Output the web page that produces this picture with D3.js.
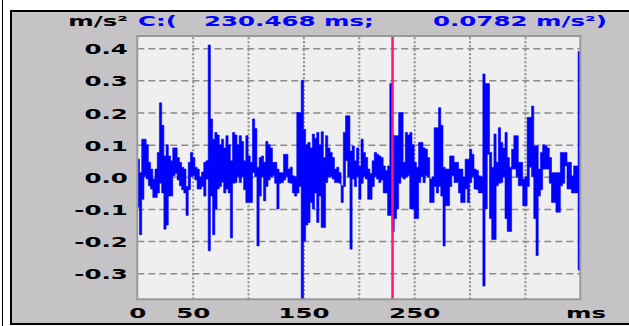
<!DOCTYPE html>
<html>
<head>
<meta charset="utf-8">
<script src="https://cdn.jsdelivr.net/npm/d3@7"></script>
<style>
  body { margin: 0; background: #fff; }
  text { font-family: "DejaVu Sans", sans-serif; font-weight: bold; font-size: 14px; }
</style>
</head>
<body>
<script>
"use strict";

// the trace is drawn scope-style: for every 2 ms column the highest and lowest value (m/s²)
const sampleStepMs = 2;
const accelHi = [
    0.055, 0.013, 0.117, 0.117, 0.1, 0.045, 0.024, -0.007, 0.024, 0.076,
    0.23, 0.16, 0.065, 0.1, 0.065, 0.05, 0.09, 0.09, 0.06, 0.045,
    0.03, 0.024, -0.03, 0.045, 0.076, 0.06, 0.03, 0.024, 0.0, 0.015,
    0.045, 0.05, 0.41, 0.18, 0.117, 0.138, 0.13, 0.1, 0.117, 0.09,
    0.128, 0.1, 0.05, 0.138, 0.13, 0.1, 0.128, 0.11, 0.05, 0.128,
    0.065,
    0.045, 0.18, 0.15, 0.03, 0.06, 0.065, 0.045, 0.11, 0.1, 0.09,
    0.045, 0.045, 0.024, 0.013, 0.013, 0.07, 0.07, 0.024, 0.03, 0.003,
    0.0, 0.2, 0.2, 0.3, 0.148, 0.1, 0.107, 0.09, 0.133, 0.12,
    0.138, 0.1, 0.14, 0.06, 0.128, 0.09, 0.076, 0.06, 0.024, 0.03,
    0.013, -0.028, 0.138, 0.19, 0.19, 0.08, 0.096, 0.05, 0.09,
    0.034, 0.117, 0.076, 0.06, 0.024, 0.01, 0.05, 0.076, 0.07, 0.065,
    0.06, 0.034, 0.02, 0.034, 0.29, 0.13, 0.128, 0.128, 0.2, 0.2,
    0.045, 0.138, 0.13, 0.138, 0.1, 0.045, 0.03, 0.107, 0.107, 0.09,
    0.086, 0.06, -0.007, 0.0, 0.153, 0.153, 0.215, 0.16, 0.03, 0.024,
    0.024, 0.065, 0.065, 0.045, 0.045, 0.024, 0.024, 0.0, 0.055,
    0.055, 0.086, 0.07, 0.024, 0.02, 0.003, 0.0, 0.32, 0.29, 0.29,
    0.076, 0.03, 0.133, 0.045, 0.153, 0.107, 0.09, 0.138, 0.06, 0.03,
    0.086, 0.128, 0.128, 0.045, 0.045, -0.007, 0.0, 0.185, 0.185, 0.22,
    0.096, 0.096, 0.024, 0.076, 0.1, 0.096, 0.09, 0.06, 0.013, 0.013,
    0.013, 0.013, 0.076, 0.076, 0.076, 0.045, 0.045, 0.003, 0.034, 0.034,
    0.39, 0.128
];
const accelLo = [
    -0.095, -0.18, -0.07, 0.0, -0.007, -0.028, -0.038, -0.064, -0.064, -0.05,
    -0.02, -0.05, -0.163, -0.15, -0.06, -0.06, 0.003, 0.01, -0.01, -0.028,
    -0.04, -0.05, -0.12, -0.04, 0.0, 0.003, -0.01, -0.038, -0.038, -0.03,
    -0.06, -0.007, -0.23, -0.06, -0.18, -0.1, -0.038, -0.03, -0.017, -0.05,
    -0.038, -0.05, -0.19, -0.02, -0.018, 0.0, -0.018, 0.0, -0.04, -0.08,
    -0.08,
    -0.08, 0.013, 0.0, -0.215, -0.06, 0.0, -0.075, -0.03, -0.01, 0.0,
    0.003, -0.02, -0.1, -0.02, -0.018, -0.01, 0.0, -0.018, -0.02, -0.05,
    -0.06, -0.05, -0.03, -0.38, -0.2, -0.15, -0.142, -0.08, -0.1, -0.05,
    -0.142, -0.06, -0.158, -0.158, -0.018, 0.0, 0.0, -0.007, -0.018, -0.018,
    -0.02, -0.08, -0.03, 0.05, 0.0, -0.225, -0.007, -0.03, 0.0,
    -0.07, -0.02, 0.0, -0.007, -0.07, -0.07, -0.03, 0.0, -0.007, -0.018,
    -0.01, -0.05, -0.05, -0.12, -0.12, -0.17, -0.13, -0.1, -0.02, 0.0,
    -0.007, 0.0, 0.003, -0.1, -0.1, -0.13, -0.13, -0.018, 0.0, -0.018,
    0.003, 0.0, -0.08, -0.08, -0.03, -0.05, -0.03, -0.06, -0.215, -0.09,
    -0.09, -0.03, 0.003, -0.018, -0.018, -0.05, -0.08, -0.08, -0.038,
    -0.08, -0.018, 0.0, -0.038, -0.04, -0.05, -0.05, -0.34, -0.1, 0.07,
    -0.13, -0.195, -0.195, -0.028, -0.02, -0.018, 0.0, -0.13, -0.17, -0.17,
    0.024, 0.024, 0.0, -0.028, -0.028, -0.09, -0.09, -0.03, 0.03, 0.0,
    -0.13, -0.245, -0.06, -0.04, 0.024, 0.024, 0.024, -0.02, -0.08, -0.08,
    -0.11, -0.11, -0.028, -0.02, 0.034, -0.038, -0.038, -0.05, -0.05, -0.05,
    -0.29, -0.07
];

const xTicks = [0, 50, 150, 250];
const xTickLabels = ["0", "50", "150", "250"];
const xGrid = [50, 100, 150, 200, 250, 300, 350];
const yTicks = [0.4, 0.3, 0.2, 0.1, 0.0, -0.1, -0.2, -0.3];
const yTickLabels = ["0.4", "0.3", "0.2", "0.1", "0.0", "-0.1", "-0.2", "-0.3"];

// cursor readout
const cursorMs = [230.468];
const cursorValue = [0.0782];

(function(){
    const measurements = {
        width: 629,
        height: 326,
        left: 137.3,
        right: 580.3,
        top: 36,
        bottom: 299.3
    }
    const stretch = 1.75   // the old bitmap font is very wide

    const svg = d3.select('body').append('svg')
        .attr('width', measurements.width)
        .attr('height', measurements.height)

    // white page, thin black line on the far left, grey panel with black frame
    svg.append('rect').attr('width', measurements.width).attr('height', measurements.height).attr('fill', '#fff')
    svg.append('line')
        .attr('x1', 2.5).attr('x2', 2.5).attr('y1', 0).attr('y2', measurements.height)
        .attr('stroke', '#000').attr('stroke-width', 1)
    svg.append('rect')
        .attr('x', 11).attr('y', 11)
        .attr('width', 640).attr('height', 313)
        .attr('fill', '#c5c3c6')
        .attr('stroke', '#000').attr('stroke-width', 2)

    const scaleX = d3.scaleLinear()
        .domain([0, 400])
        .range([measurements.left, measurements.right])
    const scaleY = d3.scaleLinear()
        .domain([-0.381, 0.438])
        .range([measurements.bottom, measurements.top])

    // plot background
    svg.append('rect')
        .attr('x', measurements.left).attr('y', measurements.top)
        .attr('width', measurements.right - measurements.left)
        .attr('height', measurements.bottom - measurements.top)
        .attr('fill', '#efefef')

    drawGrid(scaleX, scaleY)
    plotData(scaleX, scaleY)

    // plot frame
    svg.append('rect')
        .attr('x', measurements.left).attr('y', measurements.top)
        .attr('width', measurements.right - measurements.left)
        .attr('height', measurements.bottom - measurements.top)
        .attr('fill', 'none')
        .attr('stroke', '#999').attr('stroke-width', 2)

    drawAxes(scaleX, scaleY)
    drawHeader()

    function drawGrid(scaleX, scaleY) {
        const plotW = measurements.right - measurements.left
        const plotH = measurements.bottom - measurements.top

        const vGrid = svg.append('g')
            .attr('transform', 'translate(0,' + measurements.bottom + ')')
            .call(d3.axisBottom(scaleX).tickValues(xGrid).tickSize(-plotH).tickFormat(''))
        vGrid.select('.domain').remove()
        vGrid.selectAll('line')
            .attr('stroke', '#8c8c8c')
            .attr('stroke-width', 2)
            .attr('stroke-dasharray', '2,2')

        const hGrid = svg.append('g')
            .attr('transform', 'translate(' + measurements.left + ',0)')
            .call(d3.axisLeft(scaleY).tickValues(yTicks).tickSize(-plotW).tickFormat(''))
        hGrid.select('.domain').remove()
        hGrid.selectAll('line')
            .attr('stroke', '#8c8c8c')
            .attr('stroke-width', 1.5)
            .attr('stroke-dasharray', '7,4')
    }

    function plotData(scaleX, scaleY) {
        svg.append('clipPath').attr('id', 'plotClip')
            .append('rect')
            .attr('x', measurements.left).attr('y', measurements.top)
            .attr('width', measurements.right - measurements.left)
            .attr('height', measurements.bottom - measurements.top)

        const band = d3.area()
            .x((d, i) => scaleX(i * sampleStepMs))
            .y0((d, i) => scaleY(accelLo[i]))
            .y1(d => scaleY(d))
            .curve(d3.curveStepAfter)

        svg.append('path')
            .datum(accelHi)
            .attr('clip-path', 'url(#plotClip)')
            .attr('d', band)
            .attr('fill', '#0000ff')
            .attr('stroke', '#0000ff')
            .attr('stroke-width', 0.6)

        // cursor
        svg.selectAll('.cursor')
            .data(cursorMs)
            .enter().append('line')
            .attr('class', 'cursor')
            .attr('x1', d => scaleX(d)).attr('x2', d => scaleX(d))
            .attr('y1', measurements.top).attr('y2', measurements.bottom)
            .attr('stroke', '#ff1675')
            .attr('stroke-width', 2.5)
    }

    function drawAxes(scaleX, scaleY) {
        const yAxis = d3.axisLeft(scaleY)
            .tickValues(yTicks)
            .tickSize(0)
            .tickFormat((d, i) => yTickLabels[i])
        const gy = svg.append('g')
            .attr('transform', 'translate(' + (measurements.left - 9.5) + ',0)')
            .call(yAxis)
        gy.select('.domain').remove()
        gy.selectAll('text')
            .attr('x', 0)
            .attr('dy', 5.5)
            .attr('fill', '#000')
            .attr('transform', 'scale(' + stretch + ',1)')
            .style('font-size', '14px')

        const xAxis = d3.axisBottom(scaleX)
            .tickValues(xTicks)
            .tickSize(0)
            .tickFormat((d, i) => xTickLabels[i])
        const gx = svg.append('g')
            .attr('transform', 'translate(0,' + measurements.bottom + ')')
            .call(xAxis)
        gx.select('.domain').remove()
        gx.selectAll('text')
            .attr('y', 18.7)
            .attr('dy', 0)
            .attr('fill', '#000')
            .attr('transform', 'scale(' + stretch + ',1)')
            .style('font-size', '14px')

        stretchedText(586, 318, 'middle', 'ms', '#000')
    }

    function drawHeader() {
        stretchedText(128, 26, 'end', 'm/s²', '#000')
        stretchedText(138, 26, 'start', 'C:(', '#0000ff')
        stretchedText(204, 26, 'start', cursorMs[0].toFixed(3) + ' ms;', '#0000ff')
        stretchedText(433, 26, 'start', cursorValue[0].toFixed(4) + ' m/s²)', '#0000ff')
    }

    function stretchedText(x, y, anchor, txt, color) {
        svg.append('g')
            .attr('transform', 'translate(' + x + ',' + y + ') scale(' + stretch + ',1)')
            .append('text')
            .attr('text-anchor', anchor)
            .attr('fill', color)
            .text(txt)
    }
})()
</script>
</body>
</html>
